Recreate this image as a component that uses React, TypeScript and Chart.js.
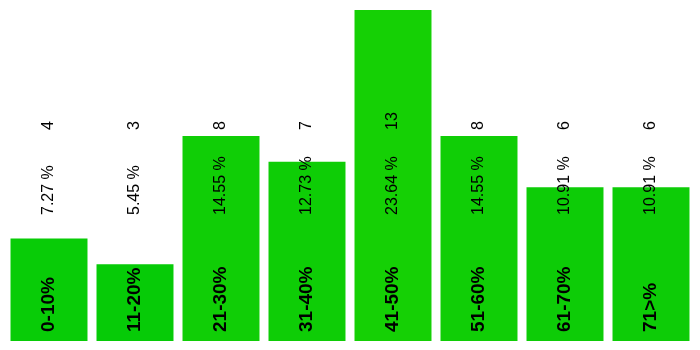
import React, { useEffect, useRef } from "react";
import { Chart, registerables } from "chart.js";

Chart.register(...registerables);

const categories = ["0-10%", "11-20%", "21-30%", "31-40%", "41-50%", "51-60%", "61-70%", "71>%"];
const counts = [4, 3, 8, 7, 13, 8, 6, 6];
const percentLabels = ["7.27 %", "5.45 %", "14.55 %", "12.73 %", "23.64 %", "14.55 %", "10.91 %", "10.91 %"];
const barColors = [
  "rgb(8,204,7)",
  "rgb(6,203,7)",
  "rgb(16,206,6)",
  "rgb(14,205,6)",
  "rgb(21,208,5)",
  "rgb(16,206,6)",
  "rgb(13,204,7)",
  "rgb(13,204,7)",
];

const FONT = "'Liberation Sans', Arial, sans-serif";

const labelPlugin = {
  id: "barLabels",
  afterDatasetsDraw(chart: any) {
    const ctx = chart.ctx;
    const meta = chart.getDatasetMeta(0);
    const bottom = chart.chartArea.bottom;
    ctx.save();
    ctx.fillStyle = "#000";
    ctx.textBaseline = "middle";
    ctx.textAlign = "left";
    meta.data.forEach((bar: any, i: number) => {
      const x = bar.x;
      const drawRot = (text: string, y: number, font: string) => {
        ctx.save();
        ctx.translate(x, y);
        ctx.rotate(-Math.PI / 2);
        ctx.font = font;
        ctx.fillText(text, 0, 0);
        ctx.restore();
      };
      drawRot(categories[i], bottom - 9, `bold 19px ${FONT}`);
      drawRot(percentLabels[i], bottom - 126, `16px ${FONT}`);
      drawRot(String(counts[i]), bottom - 211, `16px ${FONT}`);
    });
    ctx.restore();
  },
};

export default function App() {
  const ref = useRef<HTMLCanvasElement | null>(null);
  useEffect(() => {
    if (!ref.current) return;
    const chart = new Chart(ref.current, {
      type: "bar",
      data: {
        labels: categories,
        datasets: [
          {
            data: counts,
            backgroundColor: barColors,
            borderWidth: 0,
            barPercentage: 0.895,
            categoryPercentage: 1,
          },
        ],
      },
      options: {
        animation: false,
        responsive: false,
        maintainAspectRatio: false,
        layout: { padding: { left: 6, right: 6, top: 10, bottom: 9 } },
        plugins: { legend: { display: false }, tooltip: { enabled: false } },
        scales: {
          x: { display: false },
          y: { display: false, min: 0, max: 12.92 },
        },
      },
      plugins: [labelPlugin],
    });
    return () => chart.destroy();
  }, []);
  return (
    <div style={{ position: "fixed", left: 0, top: 0, width: 700, height: 350, background: "#fff" }}>
      <canvas ref={ref} width={700} height={350} style={{ display: "block", width: 700, height: 350 }} />
    </div>
  );
}
